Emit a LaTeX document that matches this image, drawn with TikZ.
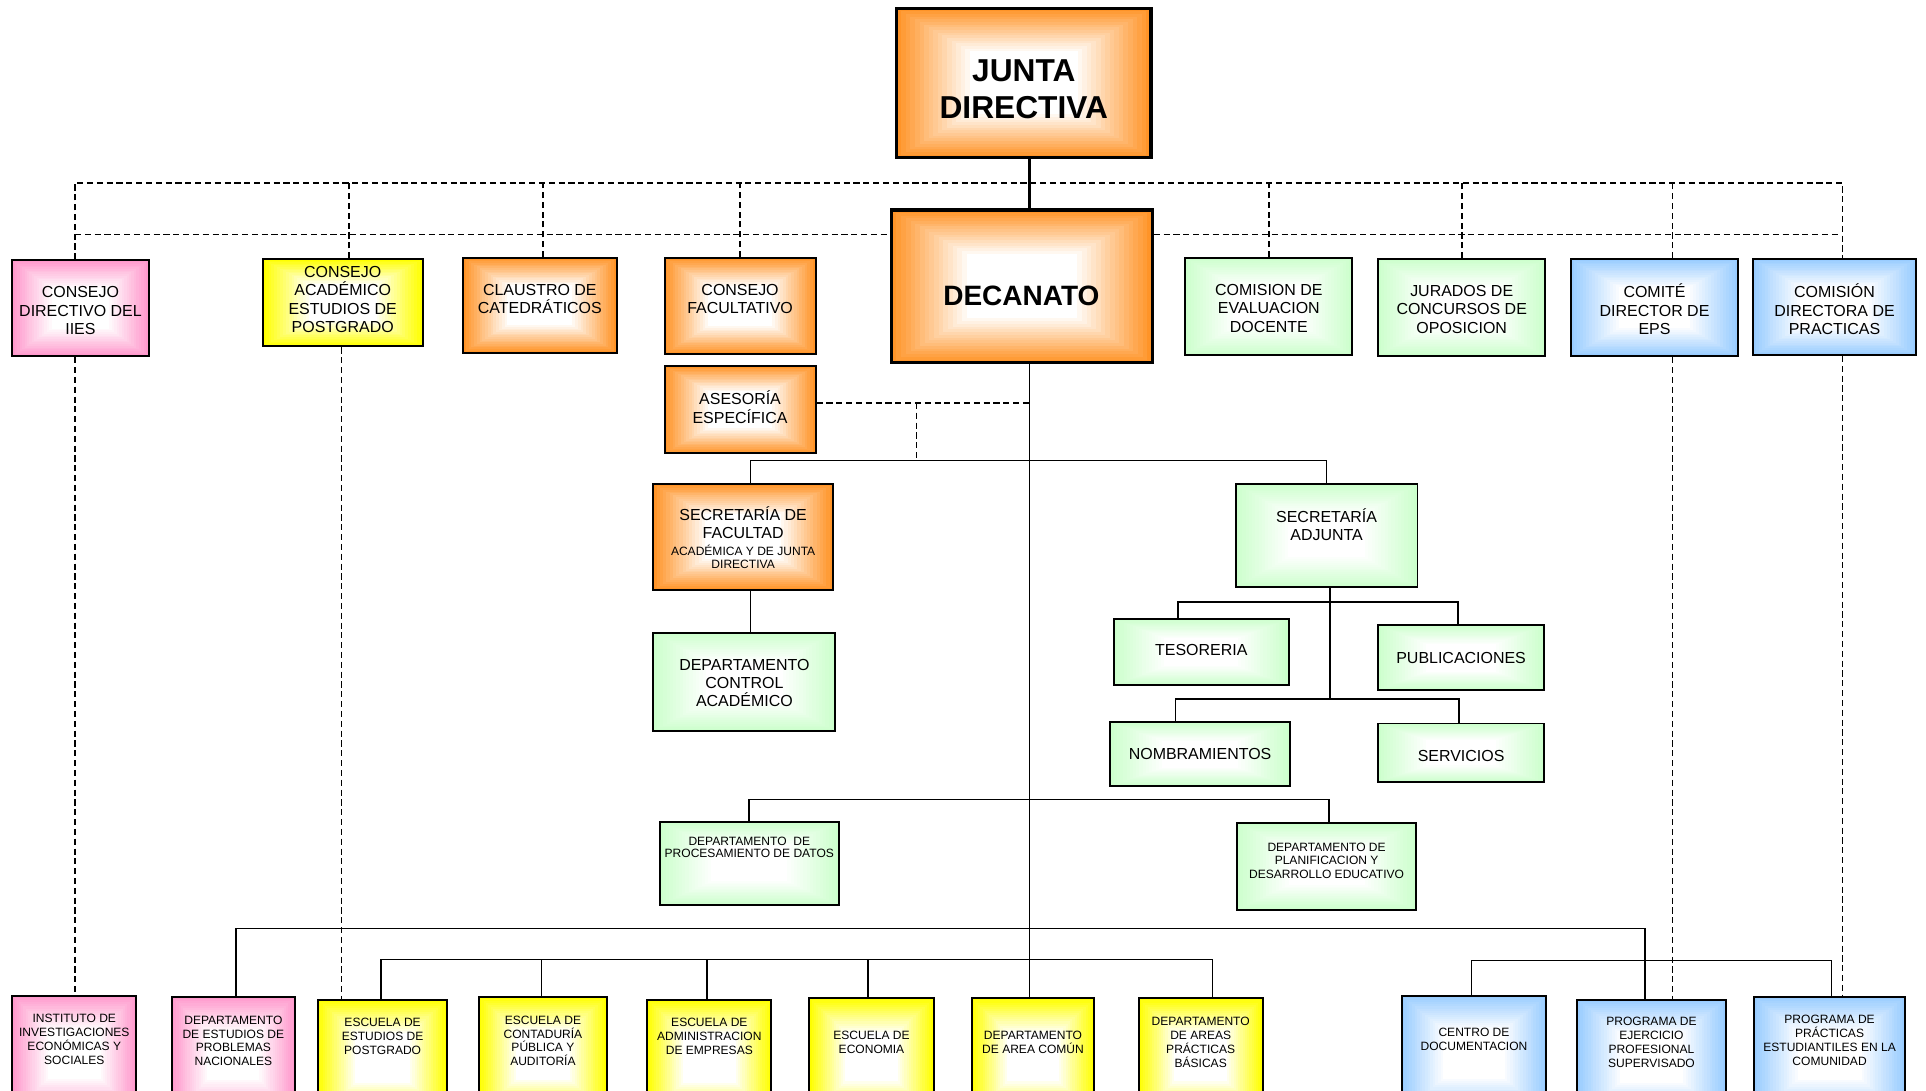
\documentclass[tikz,border=0pt]{standalone}
\usepackage{fontspec}
\setmainfont{Liberation Sans}
\usetikzlibrary{calc}

\definecolor{naranja}{RGB}{255,148,40}
\definecolor{rosa}{RGB}{255,153,204}
\definecolor{amarillo}{RGB}{255,255,0}
\definecolor{verde}{RGB}{204,255,204}
\definecolor{celeste}{RGB}{153,204,255}

\newcommand{\chico}{\fontsize{9.8}{11.3}\selectfont}

\tikzset{
  degradado/.style={fill=#1,
    path picture={
      \foreach \k [evaluate=\k as \pc using int(100-6.2*\k)] in {1,...,16}
        \fill[#1!\pc!white]
          ($(path picture bounding box.south west)!{\k*0.018}!(path picture bounding box.north east)$)
          rectangle
          ($(path picture bounding box.north east)!{\k*0.018}!(path picture bounding box.south west)$);
    }},
  caja/.style={rectangle, draw=black, line width=1.6pt, inner sep=0pt, degradado=#1},
  cnaranja/.style={caja=naranja},
  crosa/.style={caja=rosa},
  camarillo/.style={caja=amarillo},
  cverde/.style={caja=verde},
  cceleste/.style={caja=celeste},
  gruesa/.style={line width=2.6pt},
  baja/.style={anchor=north, minimum height=95},
  texto/.style={align=center, inner sep=0pt, font=\fontsize{13}{15}\selectfont},
  textochico/.style={texto, font=\chico},
  linea/.style={line width=1.3pt},
  punteada/.style={line width=1.3pt, dash pattern=on 5pt off 3pt}
}

\begin{document}
\begin{tikzpicture}[x=1pt,y=1pt,yscale=-1,xscale=1]
\useasboundingbox (0,0) rectangle (1568,888);
\clip (0,0) rectangle (1568,888);
\fill[white] (0,0) rectangle (1568,888);

% puntos de las lineas
\coordinate (dl) at (61,149);
\coordinate (dr) at (1500,149);
\coordinate (ml) at (61,191);
\coordinate (mr) at (1497,191);
\coordinate (eje) at (838,300);
\coordinate (ase) at (746,328);
\coordinate (b1) at (611,375);
\coordinate (eje2) at (1083,480);
\coordinate (t1) at (959,490);
\coordinate (t2) at (1187,490);
\coordinate (n1) at (957,569);
\coordinate (n2) at (1188,569);
\coordinate (p1) at (610,651);
\coordinate (p2) at (1082,651);
\coordinate (e1) at (192,756);
\coordinate (e2) at (1339,756);
\coordinate (s1) at (310,781);
\coordinate (s2) at (987,781);
\coordinate (c1) at (1198,782);
\coordinate (c2) at (1491,782);

% junta y decanato
\node[cnaranja, gruesa, minimum width=207, minimum height=121] (junta) at (833.5,67.5) {};
\node[texto, font=\bfseries\fontsize{25.8}{30}\selectfont] (junta-t) at (833.5,72.5) {JUNTA\\DIRECTIVA};
\node[cnaranja, gruesa, minimum width=212, minimum height=124] (decanato) at (832,233) {};
\node[texto, font=\bfseries\fontsize{22.8}{27}\selectfont] (decanato-t) at (831.5,240.5) {DECANATO};

% consejos y comisiones
\node[crosa, minimum width=111, minimum height=78] (cdiies) at (65.5,251) {};
\node[texto] (cdiies-t) at (65.5,253) {CONSEJO\\DIRECTIVO DEL\\IIES};
\node[camarillo, minimum width=130, minimum height=71] (caep) at (279,246.5) {};
\node[texto] (caep-t) at (279,244) {CONSEJO\\ACADÉMICO\\ESTUDIOS DE\\POSTGRADO};
\node[cnaranja, minimum width=125, minimum height=77] (claustro) at (439.5,248.5) {};
\node[texto] (claustro-t) at (439.5,243.5) {CLAUSTRO DE\\CATEDRÁTICOS};
\node[cnaranja, minimum width=123, minimum height=78] (cfac) at (602.5,249) {};
\node[texto] (cfac-t) at (602.5,243.5) {CONSEJO\\FACULTATIVO};
\node[cnaranja, minimum width=123, minimum height=71] (asesoria) at (602.5,333.5) {};
\node[texto] (asesoria-t) at (602.5,331.5) {ASESORÍA\\ESPECÍFICA};
\node[cverde, minimum width=136, minimum height=79] (comeval) at (1033,249.5) {};
\node[texto] (comeval-t) at (1033,251) {COMISION DE\\EVALUACION\\DOCENTE};
\node[cverde, minimum width=136, minimum height=79] (jurados) at (1190,250.5) {};
\node[texto] (jurados-t) at (1190,251.8) {JURADOS DE\\CONCURSOS DE\\OPOSICION};
\node[cceleste, minimum width=136, minimum height=79] (comeps) at (1347,250.5) {};
\node[texto] (comeps-t) at (1347,251.8) {COMITÉ\\DIRECTOR DE\\EPS};
\node[cceleste, minimum width=133, minimum height=78] (comprac) at (1493.5,250) {};
\node[texto] (comprac-t) at (1493.5,251.8) {COMISIÓN\\DIRECTORA DE\\PRACTICAS};

% secretarias y departamentos
\node[cnaranja, minimum width=146, minimum height=86] (secfac) at (605,437) {};
\node[texto] (secfac-t) at (605,437.5) {SECRETARÍA DE\\FACULTAD\\[-1pt]{\chico ACADÉMICA Y DE JUNTA}\\[-4.5pt]{\chico DIRECTIVA}};
\node[cverde, minimum width=148, minimum height=80] (dca) at (606,555) {};
\node[texto] (dca-t) at (606,556) {DEPARTAMENTO\\CONTROL\\ACADÉMICO};
\node[cverde, minimum width=148, minimum height=84] (secadj) at (1080,436) {};
\node[texto] (secadj-t) at (1080,427.2) {SECRETARÍA\\ADJUNTA};
\node[cverde, minimum width=142, minimum height=54] (tes) at (978,531) {};
\node[texto] (tes-t) at (978,529) {TESORERIA};
\node[cverde, minimum width=135, minimum height=53] (pub) at (1189.5,535.5) {};
\node[texto] (pub-t) at (1189.5,536) {PUBLICACIONES};
\node[cverde, minimum width=146, minimum height=52] (nom) at (977,614) {};
\node[texto] (nom-t) at (977,614.2) {NOMBRAMIENTOS};
\node[cverde, minimum width=135, minimum height=48] (serv) at (1189.5,613) {};
\node[texto] (serv-t) at (1189.5,615.4) {SERVICIOS};
\node[cverde, minimum width=146, minimum height=68] (dpd) at (610,703) {};
\node[textochico] (dpd-t) at (610,689.8) {DEPARTAMENTO~ DE\\[-1.7pt]PROCESAMIENTO DE DATOS};
\node[cverde, minimum width=146, minimum height=71] (dplan) at (1080,705.5) {};
\node[textochico] (dplan-t) at (1080,700.8) {DEPARTAMENTO DE\\PLANIFICACION Y\\DESARROLLO EDUCATIVO};

% fila de abajo
\node[crosa, baja, minimum width=101] (inst) at (60.5,810) {};
\node[textochico] (inst-t) at (60.5,846.4) {INSTITUTO DE\\INVESTIGACIONES\\ECONÓMICAS Y\\SOCIALES};
\node[crosa, baja, minimum width=100] (dep) at (190,811) {};
\node[textochico] (dep-t) at (190,847.4) {DEPARTAMENTO\\DE ESTUDIOS DE\\PROBLEMAS\\NACIONALES};
\node[camarillo, baja, minimum width=105] (eep) at (311.5,813) {};
\node[textochico] (eep-t) at (311.5,844) {ESCUELA DE\\ESTUDIOS DE\\POSTGRADO};
\node[camarillo, baja, minimum width=104] (ecpa) at (442,810.6) {};
\node[textochico] (ecpa-t) at (442,847.4) {ESCUELA DE\\CONTADURÍA\\PÚBLICA Y\\AUDITORÍA};
\node[camarillo, baja, minimum width=101] (eae) at (577.5,813) {};
\node[textochico] (eae-t) at (577.5,844) {ESCUELA DE\\ADMINISTRACION\\DE EMPRESAS};
\node[camarillo, baja, minimum width=101] (eco) at (709.5,812) {};
\node[textochico] (eco-t) at (709.5,848.9) {ESCUELA DE\\ECONOMIA};
\node[camarillo, baja, minimum width=100] (dac) at (841,812) {};
\node[textochico] (dac-t) at (841,848.9) {DEPARTAMENTO\\DE AREA COMÚN};
\node[camarillo, baja, minimum width=101] (dapb) at (977.5,812) {};
\node[textochico] (dapb-t) at (977.5,848.4) {DEPARTAMENTO\\DE AREAS\\PRÁCTICAS\\BÁSICAS};
\node[cceleste, baja, minimum width=118] (cdoc) at (1200,810) {};
\node[textochico] (cdoc-t) at (1200,846.3) {CENTRO DE\\DOCUMENTACION};
\node[cceleste, baja, minimum width=121] (peps) at (1344.5,813) {};
\node[textochico] (peps-t) at (1344.5,848.4) {PROGRAMA DE\\EJERCICIO\\PROFESIONAL\\SUPERVISADO};
\node[cceleste, baja, minimum width=123] (ppec) at (1489.5,811) {};
\node[textochico] (ppec-t) at (1489.5,847.1) {PROGRAMA DE\\PRÁCTICAS\\ESTUDIANTILES EN LA\\COMUNIDAD};

% lineas punteadas
\draw[punteada] (cdiies.north -| dl) -- (dl) -- (dr) -- (comprac.north -| dr);
\draw[punteada] (ml) -- (ml -| decanato.west);
\draw[punteada] (decanato.east |- mr) -- (mr);
\foreach \n/\d in {caep/5, claustro/2.5, cfac/0, comeval/0, jurados/0, comeps/14.5}
  \draw[punteada] ([xshift=\d]\n.north) -- ([xshift=\d]\n.north |- dl);
\draw[punteada] (cdiies.south -| dl) -- (inst.north -| dl);
\draw[punteada] ([xshift=-1]caep.south) -- ([xshift=-1]caep.south |- eep.north);
\draw[punteada] ([xshift=14.5]comeps.south) -- ([xshift=14.5]comeps.south |- peps.north);
\draw[punteada] (comprac.south -| dr) -- (ppec.north -| dr);
\draw[punteada] (asesoria.east |- ase) -- (eje |- ase);
\draw[punteada] (ase) -- (ase |- b1);

% lineas continuas
\draw[line width=2.4pt] (junta.south -| eje) -- (decanato.north -| eje);
\draw[linea] (decanato.south -| eje) -- (dac.north -| eje);
\draw[linea] (secfac.north -| b1) |- (secadj.north |- b1) -- (secadj.north);
\draw[linea] (secfac.south -| b1) -- (dca.north -| b1);
\draw[linea] (secadj.south -| eje2) -- (n2 -| eje2);
\draw[linea] (tes.north -| t1) |- (t2) -- (pub.north -| t2);
\draw[linea] (nom.north -| n1) |- (n2) -- (serv.north -| n2);
\draw[linea] (dpd.north -| p1) |- (p2) -- (dplan.north -| p2);
\draw[linea] (dep.north -| e1) |- (e2) -- (peps.north -| e2);
\draw[linea] (eep.north -| s1) |- (s2) -- (dapb.north -| s2);
\foreach \n/\d in {ecpa/-1, eae/-2, eco/-3}
  \draw[linea] ([xshift=\d]\n.north) -- ([xshift=\d]\n.north |- s1);
\draw[linea] (cdoc.north -| c1) |- (c2) -- (ppec.north -| c2);
\end{tikzpicture}
\end{document}
